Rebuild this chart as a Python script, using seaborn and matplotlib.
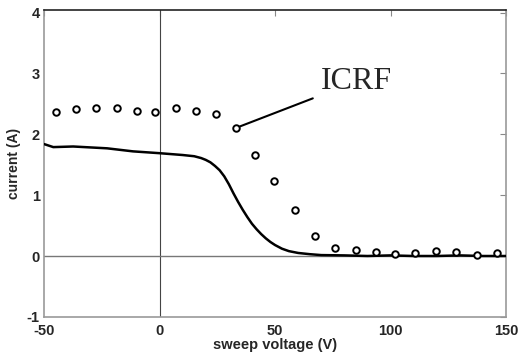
import matplotlib
matplotlib.use("Agg")
import matplotlib.pyplot as plt
import seaborn as sns
import pandas as pd

# ICRF measured points (open circles)
icrf_v = [-44.8, -36.1, -27.5, -18.4, -9.7, -2.0, 7.1, 15.8, 24.5, 33.1, 41.3, 49.6,
          58.7, 67.3, 76.0, 85.1, 93.7, 102.0, 110.6, 119.7, 128.4, 137.4, 146.1]
icrf_i = [2.36, 2.41, 2.43, 2.43, 2.39, 2.36, 2.44, 2.39, 2.34, 2.10, 1.66, 1.23,
          0.75, 0.33, 0.13, 0.10, 0.07, 0.03, 0.05, 0.08, 0.07, 0.02, 0.05]

# Solid sweep curve
sweep_v = [-50, -46, -37.4, -22.7, -11.5, 0, 5, 10, 15, 18, 20, 22, 24, 26, 28, 30,
           32, 34, 36, 38, 40, 42, 44, 46, 48, 50, 53, 56, 60, 65, 70,
           80, 90, 100, 110, 120, 130, 140, 150]
sweep_i = [1.84, 1.79, 1.80, 1.77, 1.72, 1.69, 1.675, 1.66, 1.64, 1.61, 1.58, 1.54,
           1.48, 1.41, 1.31, 1.18, 1.03, 0.89, 0.76, 0.64, 0.53, 0.44, 0.36, 0.29,
           0.23, 0.18, 0.12, 0.08, 0.05, 0.03, 0.015,
           0.01, 0.0, 0.01, 0.0, 0.0, 0.01, 0.0, 0.0]

x_ticks = [-50, 0, 50, 100, 150]
y_ticks = [-1, 0, 1, 2, 3, 4]

sns.set_theme(style="white")
plt.rcParams['font.family'] = ['Liberation Sans', 'DejaVu Sans']
plt.rcParams['axes.unicode_minus'] = False

fig = plt.figure(figsize=(5.18, 3.56), dpi=100)
ax = fig.add_axes([0.085, 0.110, 0.892, 0.863])

ax.axvline(0, color="#444444", lw=0.8, zorder=1)
ax.axhline(0, color="#777777", lw=1.0, zorder=1)

df_line = pd.DataFrame({"v": sweep_v, "i": sweep_i})
df_pts = pd.DataFrame({"v": icrf_v, "i": icrf_i})
sns.lineplot(data=df_line, x="v", y="i", ax=ax, color="black", lw=1.8, zorder=3)
sns.scatterplot(data=df_pts, x="v", y="i", ax=ax, marker="o", s=22,
                facecolor="white", edgecolor="black", linewidth=1.4, zorder=4)

ax.set_xlim(-50, 150)
ax.set_ylim(-1, 4.05)
ax.set_xticks(x_ticks)
ax.set_yticks(y_ticks)
ax.tick_params(direction="in", length=4, width=0.8, color="#888888",
               top=True, right=True, labelsize=10.5)
ax.tick_params(axis="x", pad=5)
ax.tick_params(axis="y", pad=3)
for lbl in ax.get_xticklabels() + ax.get_yticklabels():
    lbl.set_fontweight("bold")
for side in ["left", "bottom", "right"]:
    ax.spines[side].set_color("#999999")
    ax.spines[side].set_linewidth(1.2)
ax.spines["top"].set_color("#222222")
ax.spines["top"].set_linewidth(1.2)

ax.set_xlabel("sweep voltage (V)", fontsize=10.5, fontweight="bold", labelpad=0)
ax.set_ylabel("current (A)", fontsize=10, fontweight="bold", labelpad=4)

ax.annotate("ICRF", xy=(34.8, 2.13), xytext=(70.0, 2.87),
            fontsize=23, family=["Liberation Serif", "DejaVu Serif"],
            va="center", ha="left",
            arrowprops=dict(arrowstyle="-", color="black", lw=1.5,
                            shrinkA=4, shrinkB=0))

fig.savefig("out.png", dpi=100)
